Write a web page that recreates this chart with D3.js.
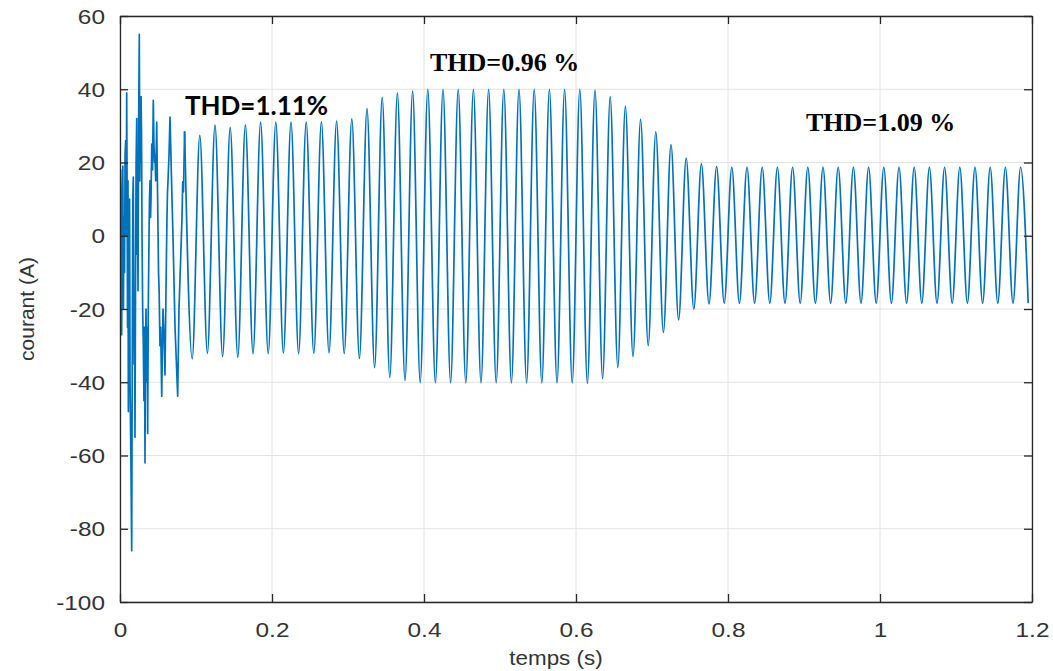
<!DOCTYPE html>
<html>
<head>
<meta charset="utf-8">
<script src="https://cdn.jsdelivr.net/npm/d3@7"></script>
<style>
  html, body { margin: 0; padding: 0; background: #fff; }
  svg { display: block; }
</style>
</head>
<body>
<svg id="chart" width="1053" height="671"></svg>
<script>
// ---- data ----
const xTicks = [0, 0.2, 0.4, 0.6, 0.8, 1, 1.2];
const xTickLabels = ["0", "0.2", "0.4", "0.6", "0.8", "1", "1.2"];
const yTicks = [-100, -80, -60, -40, -20, 0, 20, 40, 60];
const yTickLabels = ["-100", "-80", "-60", "-40", "-20", "0", "20", "40", "60"];

// start-up transient (time s, current A)
const transientTimes = [0, 0.0008, 0.0015, 0.0022, 0.003, 0.0037, 0.0045, 0.0052, 0.006, 0.0067,
  0.0075, 0.0082, 0.0088, 0.0094, 0.0099, 0.0105, 0.011, 0.0116, 0.012, 0.0126,
  0.0132, 0.0143, 0.0154, 0.0162, 0.0168, 0.0175, 0.018, 0.0186, 0.0192, 0.0197,
  0.0205, 0.0212, 0.022, 0.0225, 0.023, 0.0237, 0.0245, 0.0254, 0.026, 0.0265,
  0.027, 0.0277, 0.0283, 0.029, 0.0298, 0.0307, 0.0315, 0.0322, 0.0329, 0.0335,
  0.0342, 0.035, 0.0357, 0.0364, 0.0372, 0.0382, 0.0388, 0.0395, 0.0402, 0.0408,
  0.0418, 0.0428, 0.0438, 0.0447, 0.0455, 0.046, 0.047, 0.0483, 0.0495, 0.0507,
  0.0515, 0.0526, 0.0535, 0.0549, 0.0558, 0.0566, 0.058, 0.0592, 0.0605, 0.0618,
  0.0625, 0.0632, 0.0645, 0.0658, 0.068, 0.0697, 0.0724, 0.0759, 0.0776, 0.0789,
  0.0816, 0.0825, 0.0835, 0.085];
const transientValues = [0, 18, -15, -27, 10, 19, -20, 5, -10, 22,
  26, 0, 39, 10, -25, 15, -48, -5, -30, 10,
  -40, -60, -86, -30, 10, 16, -10, -35, -20, -55,
  -10, 20, 32, -5, 10, -15, 30, 55, 15, 30,
  20, 38, 28, 0, -20, -30, -45, -25, -62, -30,
  -20, -40, -25, -54, -20, 0, 10, 15, 5, 10,
  25, 18, 37, 25, 20, 22, 15, 31, 10, -10,
  -15, -30, -25, -43.8, -30, -20, -28, -38, -15, 5,
  12, 15, 22, 32.4, 13.4, 0, -25, -43.8, -20, -12,
  5, 14.7, 12, 28.5];

// successive peaks and troughs of the 50 Hz current after the transient
const extremaTimes = [0.085,0.095,0.105,0.115,0.125,0.135,0.145,0.155,0.165,0.175,
  0.185,0.195,0.205,0.215,0.225,0.235,0.245,0.255,0.265,0.275,
  0.285,0.295,0.305,0.315,0.325,0.335,0.345,0.355,0.365,0.375,
  0.385,0.395,0.405,0.415,0.425,0.435,0.445,0.455,0.465,0.475,
  0.485,0.495,0.505,0.515,0.525,0.535,0.545,0.555,0.565,0.575,
  0.585,0.595,0.605,0.615,0.625,0.635,0.645,0.655,0.665,0.675,
  0.685,0.695,0.705,0.715,0.725,0.735,0.745,0.755,0.765,0.775,
  0.785,0.795,0.805,0.815,0.825,0.835,0.845,0.855,0.865,0.875,
  0.885,0.895,0.905,0.915,0.925,0.935,0.945,0.955,0.965,0.975,
  0.985,0.995,1.005,1.015,1.025,1.035,1.045,1.055,1.065,1.075,
  1.085,1.095,1.105,1.115,1.125,1.135,1.145,1.155,1.165,1.175,
  1.185,1.195];
const extremaValues = [28.5,-33.6,27.4,-32.1,30.2,-33.0,29.6,-33.2,30.3,-32.2,
  31.0,-32.2,31.0,-32.0,31.0,-32.2,31.0,-32.1,31.1,-32.0,
  31.3,-32.2,31.9,-33.5,34.7,-36.0,37.8,-38.7,39.0,-39.5,
  39.5,-40.1,40.0,-40.2,40.0,-40.2,40.0,-40.2,40.0,-40.2,
  40.0,-40.2,40.0,-40.2,40.0,-40.2,40.0,-40.2,40.0,-40.2,
  40.0,-40.2,40.0,-40.3,39.8,-39.0,38.0,-36.0,35.4,-33.0,
  31.8,-30.0,28.4,-26.4,24.9,-23.0,21.2,-20.0,19.6,-18.6,
  18.9,-18.4,18.7,-18.4,18.7,-18.4,18.7,-18.4,18.7,-18.4,
  18.7,-18.4,18.7,-18.4,18.7,-18.4,18.7,-18.4,18.7,-18.4,
  18.7,-18.4,18.7,-18.4,18.7,-18.4,18.7,-18.4,18.7,-18.4,
  18.7,-18.4,18.7,-18.4,18.7,-18.4,18.7,-18.4,18.7,-18.4,
  18.7,-18.4];

const annotations = [
  { text: "THD=1.11%", t: 0.0855, v: 33.0, family: "Lato, 'Open Sans', sans-serif", size: 26 },
  { text: "THD=0.96 %", t: 0.4079, v: 45.1, family: "'Liberation Serif', 'Times New Roman', serif", size: 26 },
  { text: "THD=1.09 %", t: 0.9026, v: 28.5, family: "'Liberation Serif', 'Times New Roman', serif", size: 26 }
];

// ---- layout ----
const L = 120, R = 1032, T = 16, B = 602;
const svg = d3.select("#chart");
const x = d3.scaleLinear().domain([0, 1.2]).range([L, R]);
const y = d3.scaleLinear().domain([-100, 60]).range([B, T]);

const axisColor = "#262626";
const gridColor = "#e2e2e2";
const textColor = "#333";
const labelFont = "'Liberation Sans', Arial, Helvetica, sans-serif";

// grid
const grid = svg.append("g");
grid.selectAll("line.gx").data(xTicks).join("line")
  .attr("x1", d => x(d)).attr("x2", d => x(d)).attr("y1", T).attr("y2", B)
  .attr("stroke", gridColor).attr("stroke-width", 1);
grid.selectAll("line.gy").data(yTicks).join("line")
  .attr("y1", d => y(d)).attr("y2", d => y(d)).attr("x1", L).attr("x2", R)
  .attr("stroke", gridColor).attr("stroke-width", 1);

// signal
svg.append("clipPath").attr("id", "clip").append("rect")
  .attr("x", L).attr("y", T).attr("width", R - L).attr("height", B - T);
const plot = svg.append("g").attr("clip-path", "url(#clip)");
const lineLinear = d3.line().x(d => x(d[0])).y(d => y(d[1])).curve(d3.curveLinear);
const lineSmooth = d3.line().x(d => x(d[0])).y(d => y(d[1])).curve(d3.curveMonotoneX);
const transient = transientTimes.map((t, i) => [t, transientValues[i]]);
const steady = extremaTimes.map((t, i) => [t, extremaValues[i]]);
plot.append("path").attr("d", lineLinear(transient))
  .attr("fill", "none").attr("stroke", "#0072BD").attr("stroke-width", 1.7)
  .attr("stroke-linejoin", "round");
plot.append("path").attr("d", lineSmooth(steady))
  .attr("fill", "none").attr("stroke", "#0072BD").attr("stroke-width", 1.7)
  .attr("stroke-linejoin", "round");

// axes (ticks inside, box on)
const tickLen = 8;
const gx = svg.append("g").attr("transform", `translate(0,${B})`)
  .call(d3.axisBottom(x).tickValues(xTicks).tickFormat((d, i) => xTickLabels[i])
    .tickSizeInner(-tickLen).tickSizeOuter(0).tickPadding(21));
const gxTop = svg.append("g").attr("transform", `translate(0,${T})`)
  .call(d3.axisTop(x).tickValues(xTicks).tickFormat("").tickSizeInner(-tickLen).tickSizeOuter(0));
const gy = svg.append("g").attr("transform", `translate(${L},0)`)
  .call(d3.axisLeft(y).tickValues(yTicks).tickFormat((d, i) => yTickLabels[i])
    .tickSizeInner(-tickLen).tickSizeOuter(0).tickPadding(14));
const gyRight = svg.append("g").attr("transform", `translate(${R},0)`)
  .call(d3.axisRight(y).tickValues(yTicks).tickFormat("").tickSizeInner(-tickLen).tickSizeOuter(0));

[gx, gxTop, gy, gyRight].forEach(g => {
  g.select(".domain").attr("stroke", axisColor).attr("stroke-width", 1.3);
  g.selectAll(".tick line").attr("stroke", axisColor).attr("stroke-width", 1.3);
  g.selectAll(".tick text").attr("fill", textColor)
    .style("font-family", labelFont).style("font-size", "20px");
});
gx.selectAll(".tick text").attr("transform", "scale(1.22,1)");
gy.selectAll(".tick text").each(function () {
  d3.select(this).attr("x", -15 / 1.22).attr("transform", "scale(1.22,1)").attr("dy", "0.35em");
});

// axis titles
svg.append("text")
  .attr("x", 556 / 1.12).attr("y", 665)
  .attr("transform", "scale(1.12,1)")
  .attr("text-anchor", "middle")
  .attr("fill", textColor)
  .style("font-family", labelFont).style("font-size", "20px")
  .text("temps (s)");
svg.append("text")
  .attr("transform", `translate(34,${(T + B) / 2}) rotate(-90)`)
  .attr("text-anchor", "middle")
  .attr("fill", textColor)
  .style("font-family", labelFont).style("font-size", "21px")
  .text("courant (A)");

// THD annotations
svg.append("g").selectAll("text").data(annotations).join("text")
  .attr("x", d => x(d.t)).attr("y", d => y(d.v))
  .attr("fill", "#000")
  .style("font-family", d => d.family)
  .style("font-weight", "bold")
  .style("font-size", d => d.size + "px")
  .text(d => d.text);
</script>
</body>
</html>
